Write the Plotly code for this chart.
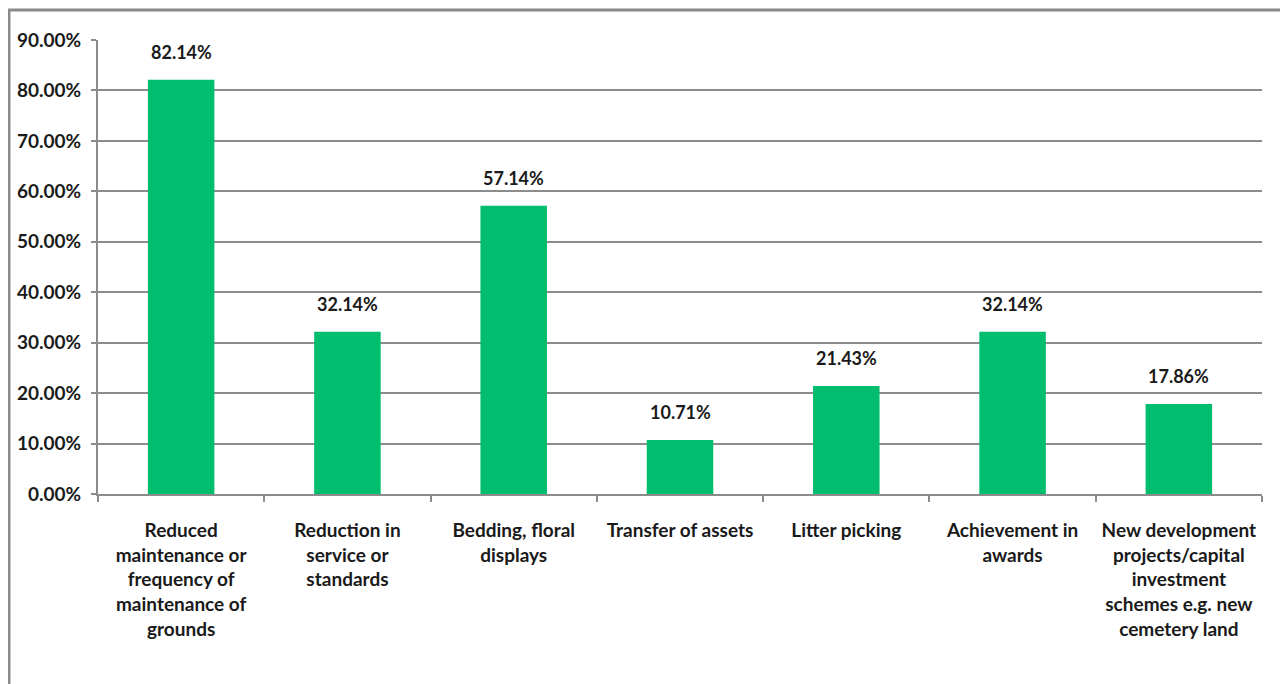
import plotly.graph_objects as go

categories = [
    "Reduced<br>maintenance or<br>frequency of<br>maintenance of<br>grounds",
    "Reduction in<br>service or<br>standards",
    "Bedding, floral<br>displays",
    "Transfer of assets",
    "Litter picking",
    "Achievement in<br>awards",
    "New development<br>projects/capital<br>investment<br>schemes e.g. new<br>cemetery land",
]
values = [0.8214, 0.3214, 0.5714, 0.1071, 0.2143, 0.3214, 0.1786]
y_ticks = [0, 0.1, 0.2, 0.3, 0.4, 0.5, 0.6, 0.7, 0.8, 0.9]

FONT = "Lato, sans-serif"
GREEN = "#00BE6E"
GRID = "#8C8C8C"
TXT = "#1A1A1A"

fig = go.Figure()
fig.add_trace(go.Bar(
    x=categories, y=values,
    marker=dict(color=GREEN, line=dict(width=0)),
    width=0.4,
    hoverinfo="skip",
))

for c, v in zip(categories, values):
    fig.add_annotation(
        x=c, y=v, xref="x", yref="y",
        text=f"<b>{v*100:.2f}%</b>",
        showarrow=False, yanchor="bottom", yshift=15,
        font=dict(family=FONT, size=18, color=TXT),
    )

# page body has an 8px default margin; figure is sized to fill the rest
fig.update_layout(
    width=1280, height=676,
    margin=dict(l=90, r=26, t=32, b=190, autoexpand=False),
    paper_bgcolor="white", plot_bgcolor="white",
    showlegend=False,
    bargap=0.6,
    font=dict(family=FONT, size=19, color=TXT),
)
fig.update_yaxes(
    range=[0, 0.9], tickvals=y_ticks, tickformat=".2%",
    showgrid=True, gridcolor=GRID, gridwidth=2,
    showline=True, linecolor=GRID, linewidth=2,
    ticks="outside", ticklen=5, tickcolor=GRID, tickwidth=2,
    tickfont=dict(family=FONT, size=19, color=TXT, weight="bold"),
    zeroline=False, automargin=False, ticklabelstandoff=6,
)
fig.update_xaxes(
    type="category",
    showline=True, linecolor=GRID, linewidth=2,
    ticks="outside", ticklen=6, tickcolor=GRID, tickwidth=2,
    tickson="boundaries",
    tickfont=dict(family=FONT, size=19, color=TXT, weight="bold"),
    ticklabelstandoff=18,
    tickangle=0, automargin=False,
)
# chart border
fig.add_shape(type="rect", xref="paper", yref="paper",
              x0=-0.0765, x1=1.018, y0=-0.45, y1=1.066,
              line=dict(color="#8A8A8A", width=3), fillcolor="rgba(0,0,0,0)",
              layer="below")

fig.write_html("out.html")
